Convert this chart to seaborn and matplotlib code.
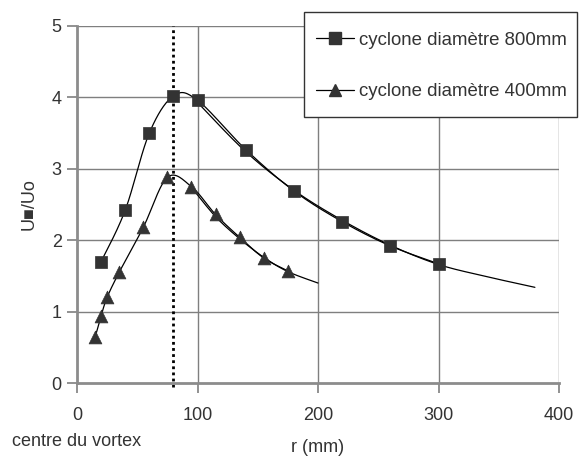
import numpy as np
import pandas as pd
import matplotlib
matplotlib.use("Agg")
import matplotlib.pyplot as plt
from matplotlib.lines import Line2D
from matplotlib.patches import Rectangle
import seaborn as sns

# ---- data ----
r_800 = [20, 40, 60, 80, 100, 140, 180, 220, 260, 300]
u_800 = [1.70, 2.42, 3.50, 4.02, 3.96, 3.27, 2.69, 2.26, 1.92, 1.67]
r_400 = [15, 20, 25, 35, 55, 75, 95, 115, 135, 155, 175]
u_400 = [0.64, 0.94, 1.20, 1.55, 2.18, 2.88, 2.75, 2.36, 2.04, 1.75, 1.57]
# fitted (model) curves without markers
r_fit800 = [100, 140, 180, 220, 260, 300, 340, 380]
u_fit800 = [3.93, 3.24, 2.70, 2.28, 1.93, 1.66, 1.49, 1.34]
r_fit400 = [95, 115, 135, 155, 175, 200]
u_fit400 = [2.74, 2.33, 2.02, 1.76, 1.56, 1.40]

labels = ["cyclone diamètre 800mm", "cyclone diamètre 400mm"]
x_ticks = [0, 100, 200, 300, 400]
y_ticks = [0, 1, 2, 3, 4, 5]
r_vortex = 80


def smooth(xs, ys, n=30):
    """Excel-like smoothed line (Catmull-Rom / Bezier through the points)."""
    P = np.column_stack([xs, ys]).astype(float)
    m = len(P)
    out = [P[0]]
    for i in range(m - 1):
        p0 = P[i - 1] if i > 0 else P[i]
        p1 = P[i]
        p2 = P[i + 1]
        p3 = P[i + 2] if i + 2 < m else P[i + 1]
        c1 = p1 + (p2 - p0) / 6.0
        c2 = p2 - (p3 - p1) / 6.0
        t = np.linspace(0, 1, n)[1:, None]
        seg = ((1 - t) ** 3) * p1 + 3 * ((1 - t) ** 2) * t * c1 + 3 * (1 - t) * t ** 2 * c2 + t ** 3 * p2
        out.extend(seg)
    out = np.array(out)
    return pd.DataFrame({"r": out[:, 0], "u": out[:, 1]})


sns.set_theme(style="white")
plt.rcParams["font.family"] = ["Liberation Sans", "DejaVu Sans"]

W, H = 582, 458
fig = plt.figure(figsize=(W / 100, H / 100), dpi=100)
ax = fig.add_axes([77 / W, 1 - 383 / H, (559 - 77) / W, (383 - 26) / H])

grid_c = "#7f7f7f"
mark_c = "#333333"
text_c = "#333333"

# grid
for xv in x_ticks[1:]:
    ax.axvline(xv, color=grid_c, lw=1.0, zorder=0)
for yv in y_ticks[1:]:
    ax.axhline(yv, color=grid_c, lw=1.0, zorder=0)

# curves
for rr, uu in [(r_800, u_800), (r_400, u_400), (r_fit800, u_fit800), (r_fit400, u_fit400)]:
    df = smooth(rr, uu)
    sns.lineplot(data=df, x="r", y="u", sort=False, estimator=None, color="black", lw=0.9, ax=ax, zorder=2)

sns.scatterplot(x=r_800, y=u_800, marker="s", s=75, color=mark_c, edgecolor=mark_c, linewidth=0.5, ax=ax, zorder=3)
sns.scatterplot(x=r_400, y=u_400, marker="^", s=85, color=mark_c, edgecolor=mark_c, linewidth=0.5, ax=ax, zorder=3)

# vortex centre dotted line
ax.plot([r_vortex, r_vortex], [-0.05, 5], color="black", lw=2.0, linestyle=(0, (1.0, 1.2)), zorder=2, clip_on=False)

ax.set_xlim(0, 400)
ax.set_ylim(0, 5)
ax.set_xticks(x_ticks)
ax.set_yticks(y_ticks)
ax.tick_params(axis="both", labelsize=13, colors=text_c, length=7, width=1.2, direction="out",
               bottom=True, left=True)
ax.tick_params(axis="x", pad=10, color=grid_c)
ax.tick_params(axis="y", pad=4, color=grid_c)
for side in ["top", "right"]:
    ax.spines[side].set_visible(False)
for side in ["left", "bottom"]:
    ax.spines[side].set_color("#8c8c8c")
    ax.spines[side].set_linewidth(2.0)

ax.set_xlabel("")
ax.set_ylabel("U\u25A0/Uo", fontsize=13, color=text_c, labelpad=10)

fig.text(318 / W, 1 - 447 / H, "r (mm)", fontsize=13, color=text_c, va="center", ha="center")
fig.text(12 / W, 1 - 442 / H, "centre du vortex", fontsize=13, color=text_c, va="center", ha="left")

# legend box drawn explicitly
fig.patches.append(Rectangle((304 / W, 1 - 117 / H), (577 - 304) / W, (117 - 12) / H,
                             transform=fig.transFigure, facecolor="white", edgecolor="#333333",
                             lw=1.0, zorder=5))
handles = [
    Line2D([], [], color="black", lw=0.9, marker="s", markersize=8, markerfacecolor=mark_c, markeredgecolor=mark_c),
    Line2D([], [], color="black", lw=0.9, marker="^", markersize=8, markerfacecolor=mark_c, markeredgecolor=mark_c),
]
leg = fig.legend(handles, labels, loc="center left", bbox_to_anchor=(316 / W, 1 - 66 / H),
                 fontsize=13.4, handlelength=2.05, handletextpad=0.27, labelspacing=1.87,
                 borderpad=0, borderaxespad=0, frameon=False)
leg.set_zorder(6)
for t in leg.get_texts():
    t.set_color(text_c)

fig.savefig("out.png", dpi=100, facecolor="white")
